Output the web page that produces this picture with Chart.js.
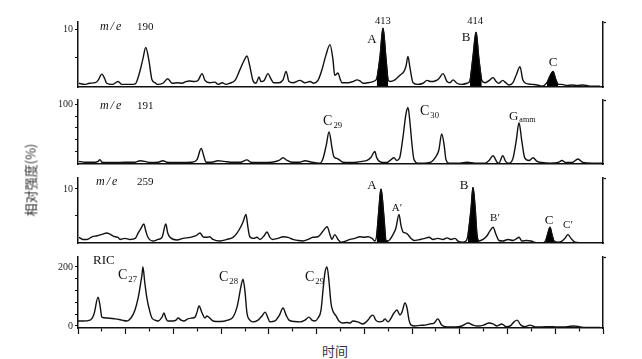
<!DOCTYPE html>
<html><head><meta charset="utf-8">
<script src="https://cdn.jsdelivr.net/npm/chart.js@4.4.1/dist/chart.umd.min.js"></script>
<style>
html,body{margin:0;padding:0;background:#fff;}
#wrap{position:relative;width:642px;height:359px;overflow:hidden;background:#fff;}
#wrap canvas{position:absolute;left:0;}
.lbl{position:absolute;font-family:"Liberation Serif","DejaVu Serif",serif;color:#111;white-space:nowrap;line-height:1;}
.lbl sub{font-size:0.62em;vertical-align:baseline;position:relative;top:0.35em;margin-left:1px;}
.lbl i{letter-spacing:2px;}
.cjk{position:absolute;font-family:"Noto Sans CJK SC",sans-serif;color:#333;white-space:nowrap;line-height:1;font-size:13px;}
</style></head><body>
<div id="wrap"></div>
<script>
// ---------------- data (time in scan units, intensity in panel units) ----------------
const time190 = [1,7,12,18,21,25,28,30,36,42,46,55,60,65,68,71,74.4,77.5,80.7,83,89,94,98.5,105,109,113,117,121.5,125.7,130,133,138,143.5,146.7,151,155,159,164.5,169.7,174,177,180,183.3,186.5,189.6,191.7,195,199,202,205,210.6,214.8,218,221,225,232.6,237.8,243,247,251.4,255.6,259.8,264,267,269,272.4,274.5,276.6,283,288,292.3,295.4,298.6,303.8,309,313,316.4,319.5,322.7,324.8,326.8,332,337.3,341.5,343.6,345.7,347.8,351,356,361.4,365.6,369.8,374,378,382.4,386.6,389.7,393,397,402,407.5,410.7,413.8,417,420,423,426.5,431.6,434.8,438,441,445,448,451.5,455.7,459,463,466,469,475.6,481,486,491.3,494.5,497.6,500.7,503,507,512,517.5,522.8,529,536.5,547];
const int190 = [0.5,0.3,0.5,0.6,1.0,2.1,1.3,0.5,0.3,0.8,0.3,0.3,0.4,2.7,4.8,6.8,4.4,1.1,0.6,0.3,0.5,1.3,0.5,0.6,0.5,0.8,0.9,0.8,1.0,2.2,1.0,0.6,0.7,0.3,0.6,0.3,0.5,1.0,2.9,4.5,5.3,3.5,1.0,0.5,1.6,0.8,1.0,2.2,1.3,0.6,0.6,1.1,2.6,0.8,0.6,1.0,0.6,0.8,0.5,1.0,2.9,5.5,7.3,4.8,1.9,2.3,1.3,0.6,0.6,0.8,1.1,0.9,0.5,0.6,0.8,1.3,5.2,10.2,4.8,1.1,0.8,1.1,1.9,2.6,3.5,5.2,3.2,0.6,0.3,0.5,1.0,0.8,0.9,1.3,2.2,0.8,0.6,1.1,0.5,0.3,0.5,1.0,5.2,9.5,4.8,1.0,0.6,1.1,1.5,0.8,0.5,1.0,0.6,0.2,0.6,1.9,3.4,1.1,0.5,0.3,0.2,0,0.6,1.8,2.6,1.1,0.3,0.3,0.1,0.2,0.1,0.2,0,0];
const filled190 = [[313,324.8],[410.7,423],[491.3,503]];

const time191 = [1,7,18,21,23,25,39,49,60,65,70,75,84,89,93,107,119,124.7,129,132,134,140,146.7,153,162,170,177,181,193,203,210.6,214.8,219,224,232.6,237.8,245,253.5,256.7,260,263,266,268,271,273.5,277.6,285,292.3,297.5,302.8,307,311,313,317.4,323.7,328,331,334,337,340.5,343.6,345.7,347.8,350,352,356,363.5,369.8,374,378,381,383.4,385.5,388.7,400,407.5,416,426.5,430.6,434.8,439,441,445,448,451.5,455.7,459,462,465,468,472.5,476.7,481,486,494.5,503,507,511,517.5,523.8,529,538.6,550];
const int191 = [3,1.5,1.5,3,6,1.5,1,1.5,1.5,4,3,1,1.5,4,1.5,1,1.5,6,25,11,1.5,1.5,4,3,1.5,1.5,5.5,1.5,1,1.5,4.5,9,4.5,1.5,1.5,4,1.5,0,8,30,53,27,11,8,6,1.5,1,1.5,3,4.5,10,20,9,1.5,1,6,9,4.5,9,45,84,95,69,30,6,0,0,1.5,9,22,50,33,6,0,0,1.5,0,0,4.5,12.5,1.5,0,12.5,3,0,8,37,69,37,9,4.5,9,3,1,0,1,4.5,1,1,7,1,0,0];

const time259 = [1,5,9.4,14.7,20,26,30,33.5,38.8,42,44,49,54.5,60,63,66,69,71,73,78.6,83.8,88,92,94,96.4,103.7,110,117.3,123.6,127.8,131,135,138,141.4,148.8,156,162.4,166.6,169.7,172.9,176,178,180,184,187.5,190.7,195,198,201,204,209.5,214.8,220,225,230.5,235.7,241,246,251.4,256.7,261,264,266,269,272.4,275.5,280.8,285,290,295.4,299.6,303.8,308,311,313,315,317.4,320.5,322.7,324.8,326.8,330,333,336.3,338.4,340.5,343.6,345.7,348.9,352,358.3,363.5,367.7,372,377,382.4,386.6,390.8,395,398,403,406.5,408.6,411.7,413.8,416,418,420,424.3,428.5,431.6,434.8,438,441,445,450.5,455.7,460,462,465,470,474.6,479.8,486,490,492.3,494.5,496.6,498.7,503,507,510,513.3,516.5,520.7,526,536.5,550];
const int259 = [0.9,0.5,0.5,1.0,1.2,1.5,1.7,1.5,1.0,0.9,0.5,0.7,0.5,0.7,1.7,2.6,3.4,2.1,1.0,0.2,0.5,0.9,3.4,1.7,0.9,0.4,0.7,0.9,1.2,1.7,1.0,0.9,1.0,0.5,0.2,0.5,0.9,1.7,2.6,3.8,5.2,2.8,1.0,0.7,0.9,0.5,1.2,1.9,0.9,0.5,0.7,1.0,0.9,0.5,0.3,0.2,0.5,0.9,1.0,2.1,2.9,1.4,0.5,1.4,0.5,0,0.2,0.5,0.7,1.0,0.9,1.0,0.7,0.2,1.4,5.7,10,4.8,0.3,0.2,0.5,1.4,2.6,5.2,3.1,1.9,1.7,1.4,0.7,0.3,0.5,0.7,0.9,0.5,0.7,0.5,0.8,0.5,0.7,0.2,0,0.2,1.4,6.2,10.3,6.6,1.4,0.2,0.5,1.2,2.1,2.8,1.4,0.3,0.2,0.5,0.3,0.7,0.9,0.2,0.3,0.2,-0.1,-0.2,0.3,1.7,2.8,1.4,0.2,0,0.2,0.7,1.4,0.7,0,-0.1,-0.2,-0.2];
const filled259 = [[313,324.8],[408.6,420],[490,498.7]];

const timeRIC = [0,5,12.6,16.8,21,23,25,30,38.8,46,51,55.5,59.7,63,65,67,68,70,72,75.4,77.5,80.7,83.8,88,90,92,94,99.5,102.7,104.8,108,111,115,119.4,122.6,124.7,126.8,130,133,135,138,141.4,148.8,157,162.4,166.6,168.7,170.8,172.9,175,177,180,183.3,188.6,192.7,196,199,201,206.4,210.6,214.8,218,221,227,232.6,237.8,242,245,248.3,251.4,254.6,256.7,258.8,260.9,263,265,267,270.3,273.4,277.6,281.8,285,288,293,298.6,303.8,307,309,312,315.3,319.5,321.6,324.8,328,331,334.2,337.3,339.4,342.6,344.7,346.8,349,353,358.3,363.5,368.8,373,377,381,386.6,395,402,408.6,413.8,419,425,430.6,434.8,439,444,448.4,452.6,456.8,460,464,468.3,473.5,478.8,486,494.5,500.7,507,513.3,519.6,526,531,536.5,541.6,547];
const intRIC = [17,17,20,41,98,71,30,27,24,20,17,27,54,95,132,173,200,146,98,47,27,20,17,30,44,27,17,17,20,27,20,17,24,27,30,47,68,44,27,34,27,17,15,20,30,64,98,136,159,115,44,20,14,20,34,47,27,14,17,34,61,37,20,15,14,20,30,20,17,27,54,122,183,200,149,78,51,34,17,10,12,10,17,14,7,20,34,37,20,14,17,24,14,27,44,54,37,47,78,61,20,3,0,2,3,7,10,24,3,-3,-3,0,10,3,0,3,10,7,0,7,-2,0,14,20,3,-2,3,-3,-3,-2,-3,-3,-2,0,-3,-5,-5,-5,-5];

// y-axis tick values and labels
const yTicks190 = [5,10],            yLabels190 = ['','10'];
const yTicks191 = [20,40,60,80,100], yLabels191 = ['','','','','100'];
const yTicks259 = [5,10],            yLabels259 = ['','10'];
const yTicksRIC = [0,40,80,120,160,200], yLabelsRIC = ['0','','','','','200'];

// annotations: [html, time, value, align, fontSize]
const notes190 = [['<i>m/e</i>',23,10.5,'l',12],['190',61.8,10.5,'l',11],['413',319.5,11.45,'c',10.5],['414',416,11.45,'c',10.5],['A',308,8.4,'c',13],['B',406.5,8.9,'c',13],['C',497.6,4.35,'c',13]];
const notes191 = [['<i>m/e</i>',23,100,'l',12],['191',61.8,100,'l',11],['C<sub>29</sub>',256.7,72,'l',14],['C<sub>30</sub>',358.3,89,'l',14],['G<sub>amm</sub>',451.5,81,'l',13]];
const notes259 = [['<i>m/e</i>',18.9,11.55,'l',12],['259',61.8,11.55,'l',11],['A',308,11.0,'c',13],['A′',334.2,6.55,'c',11],['B',404.4,10.9,'c',13],['B′',436.8,4.8,'c',11],['C',493.4,4.3,'c',13],['C′',513.3,3.45,'c',11]];
const notesRIC = [['RIC',15.7,227,'l',13],['C<sub>27</sub>',41.9,173,'l',14],['C<sub>28</sub>',147.7,166,'l',14],['C<sub>29</sub>',237.8,166,'l',14]];

// ---------------- layout ----------------
const panels = [
  {t:time190, v:int190, filled:filled190, yT:yTicks190, yL:yLabels190, notes:notes190, top:14,  h:81, padTop:8, padBot:2, xH:0, min:-0.16, max:11.29, xTicks:false},
  {t:time191, v:int191, filled:[],        yT:yTicks191, yL:yLabels191, notes:notes191, top:92,  h:80, padTop:8, padBot:2, xH:0, min:-1.56, max:107.8, xTicks:false},
  {t:time259, v:int259, filled:filled259, yT:yTicks259, yL:yLabels259, notes:notes259, top:170, h:81, padTop:8, padBot:2, xH:0, min:-0.17, max:12.07, xTicks:false},
  {t:timeRIC, v:intRIC, filled:[],        yT:yTicksRIC, yL:yLabelsRIC, notes:notesRIC, top:249, h:87, padTop:8, padBot:1, xH:7, min:-6.8, max:233.9, xTicks:true}
];

const wrap = document.getElementById('wrap');
const INK = '#111';

panels.forEach(p => {
  const cv = document.createElement('canvas');
  cv.width = 642; cv.height = p.h; cv.style.top = p.top + 'px';
  wrap.appendChild(cv);
  const pts = p.t.map((x,i) => ({x:x, y:p.v[i]}));
  const datasets = [{data:pts, borderColor:INK, borderWidth:1.4, pointRadius:0, fill:false, cubicInterpolationMode:'monotone'}];
  p.filled.forEach(r => datasets.push({
    data: pts.filter(d => d.x >= r[0] && d.x <= r[1]),
    borderColor:'#000', backgroundColor:'#000', borderWidth:1, pointRadius:0, fill:'origin', cubicInterpolationMode:'monotone'
  }));
  const chart = new Chart(cv, {
    type:'line',
    data:{datasets},
    options:{
      responsive:false, animation:false, devicePixelRatio:1,
      layout:{padding:{top:p.padTop, bottom:p.padBot, left:0, right:0}},
      plugins:{legend:{display:false}, tooltip:{enabled:false}},
      scales:{
        x:{type:'linear', min:0, max:550, position:'bottom',
           border:{display:true, color:INK, width:1.5},
           grid:{display:true, drawOnChartArea:false, drawTicks:p.xTicks, tickLength:6, tickColor:INK, tickWidth:1.2,
                 tickBorderDash: ctx => (ctx.tick && ctx.tick.value % 50 !== 0) ? [3,20] : []},
           ticks:{display:false, stepSize:25},
           afterFit: s => { s.height = p.xH; }
        },
        y:{position:'left', min:p.min, max:p.max,
           border:{display:true, color:INK, width:1.5},
           grid:{drawOnChartArea:false, tickLength:3, tickColor:INK, tickWidth:1},
           ticks:{font:{family:'Liberation Serif', size:10}, color:'#222', padding:2, autoSkip:false, callback:(v,i) => p.yL[i]},
           afterBuildTicks: s => { s.ticks = p.yT.map(v => ({value:v})); },
           afterFit: s => { s.width = 78; }
        },
        yR:{position:'right', min:p.min, max:p.max,
           border:{display:true, color:INK, width:1.5},
           grid:{drawOnChartArea:false, tickLength:3, tickColor:INK, tickWidth:1.2},
           ticks:{display:false},
           afterBuildTicks: s => { s.ticks = [{value:p.max}]; },
           afterFit: s => { s.width = 39; }
        }
      }
    }
  });
  // annotations placed through the chart's own scales
  p.notes.forEach(n => {
    const d = document.createElement('div');
    d.className = 'lbl';
    d.innerHTML = n[0];
    d.style.fontSize = n[4] + 'px';
    const px = chart.scales.x.getPixelForValue(n[1]);
    const py = chart.scales.y.getPixelForValue(n[2]) + p.top;
    d.style.left = px + 'px';
    d.style.top = py + 'px';
    d.style.transform = n[3] === 'c' ? 'translate(-50%,-50%)' : 'translate(0,-50%)';
    wrap.appendChild(d);
  });
});

// axis titles
const yt = document.createElement('div');
yt.className = 'cjk';
yt.textContent = '相对强度(%)';
yt.style.left = '30px'; yt.style.top = '180px';
yt.style.transform = 'translate(-50%,-50%) rotate(-90deg)';
wrap.appendChild(yt);
const xt = document.createElement('div');
xt.className = 'cjk';
xt.textContent = '时间';
xt.style.left = '335px'; xt.style.top = '350px';
xt.style.transform = 'translate(-50%,-50%)';
wrap.appendChild(xt);
</script>
</body></html>
